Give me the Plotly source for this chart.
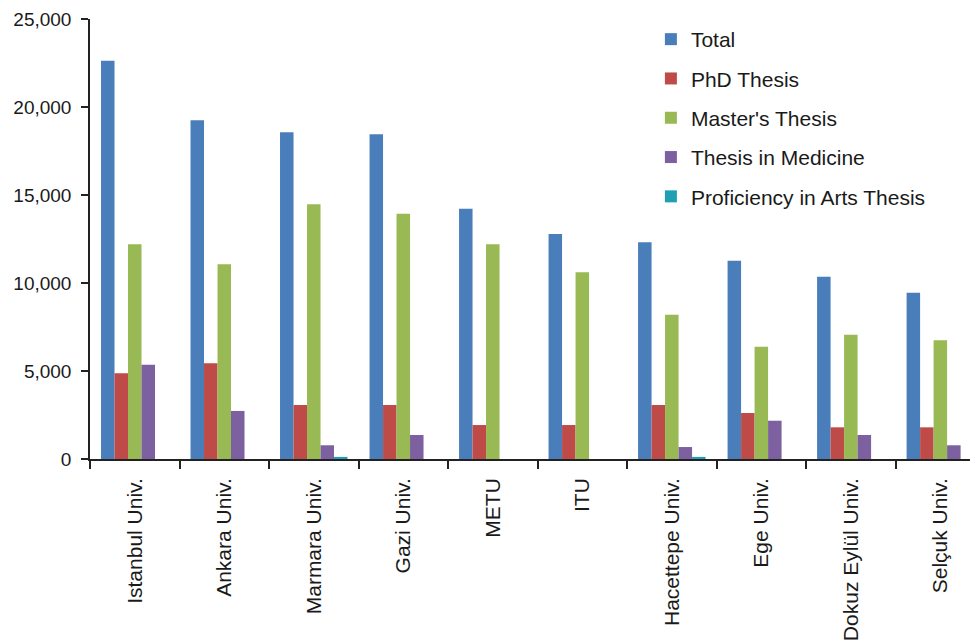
import plotly.graph_objects as go

universities = ["Istanbul Univ.", "Ankara Univ.", "Marmara Univ.", "Gazi Univ.", "METU",
                "ITU", "Hacettepe Univ.", "Ege Univ.", "Dokuz Eylül Univ.", "Selçuk Univ."]

total = [22630, 19245, 18560, 18450, 14220, 12785, 12310, 11270, 10360, 9450]
phd = [4870, 5440, 3070, 3070, 1930, 1930, 3070, 2615, 1800, 1800]
masters = [12200, 11060, 14470, 13940, 12200, 10605, 8200, 6380, 7065, 6745]
medicine = [5360, 2730, 780, 1365, 0, 0, 680, 2175, 1365, 780]
proficiency = [0, 0, 120, 0, 0, 0, 120, 0, 0, 0]

series_names = ["Total", "PhD Thesis", "Master's Thesis", "Thesis in Medicine", "Proficiency in Arts Thesis"]
series_values = [total, phd, masters, medicine, proficiency]
colors = ["#4A7EBB", "#BE4B48", "#98B954", "#7D60A0", "#1F9EB4"]

fig = go.Figure()
for i, (name, vals, col) in enumerate(zip(series_names, series_values, colors)):
    fig.add_trace(go.Bar(
        x=universities, y=vals, name=name,
        marker=dict(color=col, line=dict(width=0)),
        legendgroup=f"g{i}",
    ))

font_family = "Liberation Sans, Arial, sans-serif"
fig.update_layout(
    width=978, height=643,
    margin=dict(l=82, r=0, t=11, b=192, pad=0),
    paper_bgcolor="white", plot_bgcolor="white",
    barmode="group", bargap=0.246, bargroupgap=0,
    font=dict(family=font_family, size=20, color="#1a1a1a"),
    showlegend=True,
    legend=dict(
        x=0.626, y=1.0, xanchor="left", yanchor="top",
        traceorder="grouped", tracegroupgap=9,
        font=dict(family=font_family, size=21, color="#1a1a1a"),
        bgcolor="rgba(0,0,0,0)",
    ),
    xaxis=dict(
        type="category", range=[-0.5, 9.51], tickangle=-90,
        showline=True, linecolor="#222", linewidth=1.5,
        ticks="outside", ticklen=8, tickcolor="#222", tickwidth=1.5,
        tickson="boundaries", showgrid=False, zeroline=False,
        automargin=False, ticklabelstandoff=9,
        tickfont=dict(family=font_family, size=21, color="#1a1a1a"),
    ),
    yaxis=dict(
        range=[0, 25000], tickvals=[0, 5000, 10000, 15000, 20000, 25000],
        tickformat=",", showline=True, linecolor="#222", linewidth=1.5,
        ticks="outside", ticklen=7, tickcolor="#222", tickwidth=1.5,
        showgrid=False, zeroline=False, automargin=False, ticklabelstandoff=6,
        tickfont=dict(family=font_family, size=19, color="#1a1a1a"),
    ),
)

fig.write_html("out.html")
